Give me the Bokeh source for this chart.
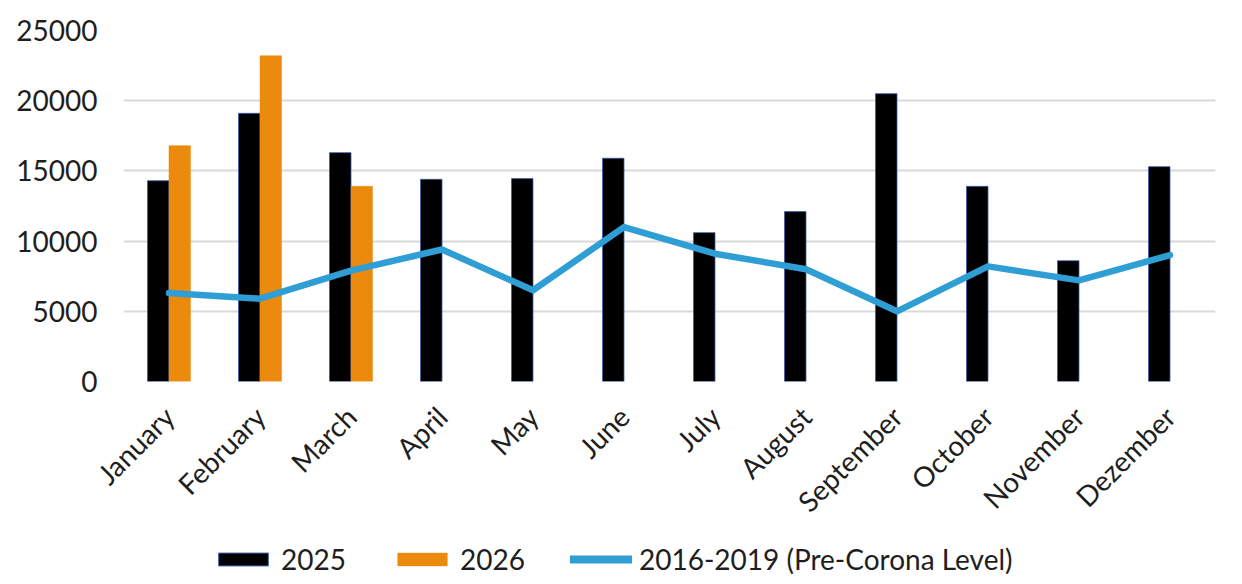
from math import pi
from bokeh.plotting import figure
from bokeh.layouts import column
from bokeh.models import (ColumnDataSource, FactorRange, Legend, LegendItem,
                          Range1d, FixedTicker)
from bokeh.transform import dodge
from bokeh.embed import file_html
from bokeh.resources import INLINE

months = ["January", "February", "March", "April", "May", "June", "July",
          "August", "September", "October", "November", "Dezember"]
y2025 = [14300, 19100, 16300, 14400, 14450, 15900, 10600, 12100, 20500,
         13900, 8600, 15300]
months_2026 = ["January", "February", "March"]
y2026 = [16800, 23200, 13900]
pre_corona = [6300, 5900, 7900, 9400, 6500, 11000, 9100, 8000, 5000, 8200,
              7200, 9000]
y_ticks = [0, 5000, 10000, 15000, 20000, 25000]
series_names = ["2025", "2026", "2016-2019 (Pre-Corona Level)"]

FONT = "Lato"
TXT = "#1e1e1e"
BLACK = "#000000"
ORANGE = "#EB8A0C"
BLUE = "#2E9ED5"

src25 = ColumnDataSource(dict(month=months, v=y2025))
src26 = ColumnDataSource(dict(month=months_2026, v=y2026))
srcl = ColumnDataSource(dict(month=months, v=pre_corona))

xr = FactorRange(*months, range_padding=0, factor_padding=0)
p = figure(x_range=xr, y_range=Range1d(0, 25000),
           frame_width=1092, frame_height=351,
           output_backend="svg", toolbar_location=None,
           min_border_left=123, min_border_right=20, min_border_top=30,
           min_border_bottom=150)
p.outline_line_color = None

bw = 0.236
p.vbar(x=dodge("month", -bw / 2, range=xr), top="v", width=bw,
       bottom=0, source=src25, fill_color=BLACK,
       line_color="#3a5aa8", line_width=0.8)
p.vbar(x=dodge("month", bw / 2, range=xr), top="v", width=bw,
       bottom=0, source=src26, fill_color=ORANGE,
       line_color=ORANGE, line_width=0.5)
p.line(x="month", y="v", source=srcl, line_color=BLUE,
       line_width=6.5, line_join="round", line_cap="round")

# axes
p.yaxis.ticker = FixedTicker(ticks=y_ticks)
p.yaxis.axis_line_color = None
p.yaxis.major_tick_line_color = None
p.yaxis.minor_tick_line_color = None
p.yaxis.major_label_text_font = FONT
p.yaxis.major_label_text_font_size = "28px"
p.yaxis.major_label_text_color = TXT
p.yaxis.major_label_standoff = 20

p.xaxis.axis_line_color = None
p.xaxis.major_tick_line_color = None
p.xaxis.major_label_orientation = pi / 4
p.xaxis.major_label_text_font = FONT
p.xaxis.major_label_text_font_size = "28px"
p.xaxis.major_label_text_color = TXT
p.xaxis.major_label_standoff = 24

p.xgrid.grid_line_color = None
p.ygrid.grid_line_color = "#d9d9d9"
p.ygrid.grid_line_width = 2

# legend strip below the chart (swatch renderers sit outside its ranges)
lf = figure(width=1235, height=53, x_range=Range1d(0, 1),
            y_range=Range1d(0, 1), x_axis_type=None, y_axis_type=None,
            output_backend="svg", toolbar_location=None,
            min_border=0)
lf.outline_line_color = None
lf.xgrid.visible = False
lf.ygrid.visible = False
off = dict(x=[-5.0, -4.0], y=[-5.0, -5.0])
l25 = lf.vbar(x="x", top="y", width=0.1, source=ColumnDataSource(off),
              fill_color=BLACK, line_color="#3a5aa8", line_width=1)
l26 = lf.vbar(x="x", top="y", width=0.1, source=ColumnDataSource(off),
              fill_color=ORANGE, line_color=ORANGE, line_width=0.5)
lln = lf.line(x="x", y="y", source=ColumnDataSource(off), line_color=BLUE,
              line_width=8, line_cap="round")
legend = Legend(items=[LegendItem(label=series_names[0], renderers=[l25]),
                       LegendItem(label=series_names[1], renderers=[l26]),
                       LegendItem(label=series_names[2], renderers=[lln])],
                orientation="horizontal", location=(89, 10),
                label_text_font=FONT, label_text_font_size="28px",
                label_text_color=TXT, glyph_width=62, glyph_height=16,
                label_standoff=7, spacing=45, border_line_color=None,
                background_fill_alpha=0, margin=0, padding=0)
lf.add_layout(legend)

open("out.html", "w").write(file_html(column(p, lf, spacing=0), INLINE))
